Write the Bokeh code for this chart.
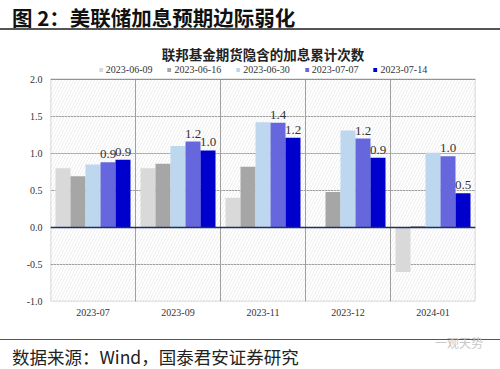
from bokeh.plotting import figure
from bokeh.models import (Div, Legend, LegendItem, Span, BoxAnnotation,
                          FixedTicker, NumeralTickFormatter, Range1d)
from bokeh.layouts import column
from bokeh.core.properties import value
from bokeh.embed import file_html
from bokeh.resources import INLINE

heading = "图 2：美联储加息预期边际弱化"
chart_title = "联邦基金期货隐含的加息累计次数"
source_note = "数据来源：Wind，国泰君安证券研究"
watermark = "一观天势"

categories = ["2023-07", "2023-09", "2023-11", "2023-12", "2024-01"]
series_names = ["2023-06-09", "2023-06-16", "2023-06-30", "2023-07-07", "2023-07-14"]
s_0609 = [0.80, 0.80, 0.40, 0.00, -0.60]
s_0616 = [0.69, 0.86, 0.82, 0.48, 0.02]
s_0630 = [0.85, 1.10, 1.42, 1.31, 1.01]
s_0707 = [0.88, 1.16, 1.415, 1.20, 0.96]
s_0714 = [0.915, 1.04, 1.21, 0.94, 0.46]
series_values = [s_0609, s_0616, s_0630, s_0707, s_0714]
labelled = [False, False, False, True, True]
colors = ["#D9D9D9", "#A6A6A6", "#BDD7EE", "#6666DD", "#0000CC"]
y_ticks = [-1.0, -0.5, 0.0, 0.5, 1.0, 1.5, 2.0]
legend_room = 0.2   # extra space above the axis top, used by the legend

SERIF = "Liberation Serif"
CJK = "Noto Sans CJK SC"

y_lo, y_hi = y_ticks[0], y_ticks[-1]
p = figure(width=500, height=309, x_range=Range1d(-0.5, len(categories) - 0.5),
           y_range=Range1d(y_lo, y_hi + legend_room), output_backend="svg",
           toolbar_location=None, title=chart_title,
           min_border_left=50, min_border_right=25, min_border_top=34,
           min_border_bottom=38)
p.title.align = "center"
p.title.text_font = CJK
p.title.text_font_size = "13.5px"
p.title.text_font_style = "bold"
p.title.text_color = "#222222"
p.title.standoff = 2

p.outline_line_color = None
p.background_fill_color = "white"
p.border_fill_color = "white"

# hatch background of the plotting area
p.add_layout(BoxAnnotation(top=y_hi, bottom=y_lo, fill_alpha=0, line_alpha=0,
                           hatch_pattern="/", hatch_color="#E6E6E6", hatch_weight=0.7,
                           hatch_scale=6, level="underlay"))

p.ygrid.ticker = FixedTicker(ticks=y_ticks)
p.ygrid.grid_line_color = "#A0A0A0"
p.ygrid.grid_line_width = 1
p.xgrid.grid_line_color = None
sep = [i + 0.5 for i in range(len(categories) - 1)]
p.segment(x0=sep, y0=[y_lo] * len(sep), x1=sep, y1=[y_hi] * len(sep),
          line_color="#A0A0A0", line_width=1)

bar_w = 15 / 85
idx = list(range(len(categories)))
items = []
for k, (name, vals, col) in enumerate(zip(series_names, series_values, colors)):
    off = (k - (len(series_names) - 1) / 2) * bar_w
    xs = [i + off for i in idx]
    r = p.vbar(x=xs, top=vals, bottom=0, width=bar_w, fill_color=col, line_color=None)
    items.append(LegendItem(label=name, renderers=[r]))
    if labelled[k]:
        p.text(x=xs, y=vals, text=[f"{v:.1f}" for v in vals], text_align="center",
               text_baseline="alphabetic", y_offset=-8, text_font=value(SERIF),
               text_font_size="13px", text_color="#333333")

p.add_layout(Span(location=0, dimension="width", line_color="#1F2F5F", line_width=1.5))
# plot frame
p.add_layout(BoxAnnotation(top=y_hi, bottom=y_lo, fill_alpha=0, line_color="#595959",
                           line_width=1.5))

p.yaxis.ticker = FixedTicker(ticks=y_ticks)
p.yaxis.formatter = NumeralTickFormatter(format="0.0")
p.xaxis.ticker = FixedTicker(ticks=idx)
p.xaxis.major_label_overrides = {i: c for i, c in zip(idx, categories)}
for ax in (p.xaxis[0], p.yaxis[0]):
    ax.axis_line_color = None
    ax.major_tick_line_color = None
    ax.minor_tick_line_color = None
    ax.major_tick_out = 0
    ax.major_tick_in = 0
    ax.major_label_text_font = SERIF
    ax.major_label_text_font_size = "10px"
    ax.major_label_text_color = "#333333"
p.yaxis.major_label_standoff = 8
p.xaxis.major_label_standoff = 7

legend = Legend(items=items, orientation="horizontal", location="top_center",
                margin=0, padding=2, spacing=14, glyph_width=5, glyph_height=5,
                label_standoff=3, label_text_font=SERIF, label_text_font_size="10px",
                label_text_color="#333333", border_line_color=None,
                background_fill_alpha=0, label_height=10)
p.add_layout(legend)

header = Div(text=(f'<div style="box-sizing:border-box;font-family:\'{CJK}\';font-weight:700;'
                   f'font-size:20.5px;line-height:22px;color:#111;padding:6px 0 0 12px;'
                   f'height:30px;border-bottom:2px solid #555;width:500px;margin:0;'
                   f'white-space:nowrap">{heading}</div>'),
             width=500, height=30, margin=0)
footer = Div(text=(f'<div style="box-sizing:border-box;position:relative;'
                   f'font-family:\'{CJK}\';font-size:17.5px;line-height:22px;color:#222;'
                   f'padding:6px 0 0 12px;height:30px;border-top:1.5px solid #555;'
                   f'width:500px;margin:0;white-space:nowrap">{source_note}'
                   f'<span style="position:absolute;right:17px;top:-3px;font-size:12px;'
                   f'line-height:12px;color:#c8c8c8">{watermark}</span></div>'),
             width=500, height=30, margin=0)

layout = column(header, p, footer, spacing=0)
open("out.html", "w").write(file_html(layout, INLINE))
